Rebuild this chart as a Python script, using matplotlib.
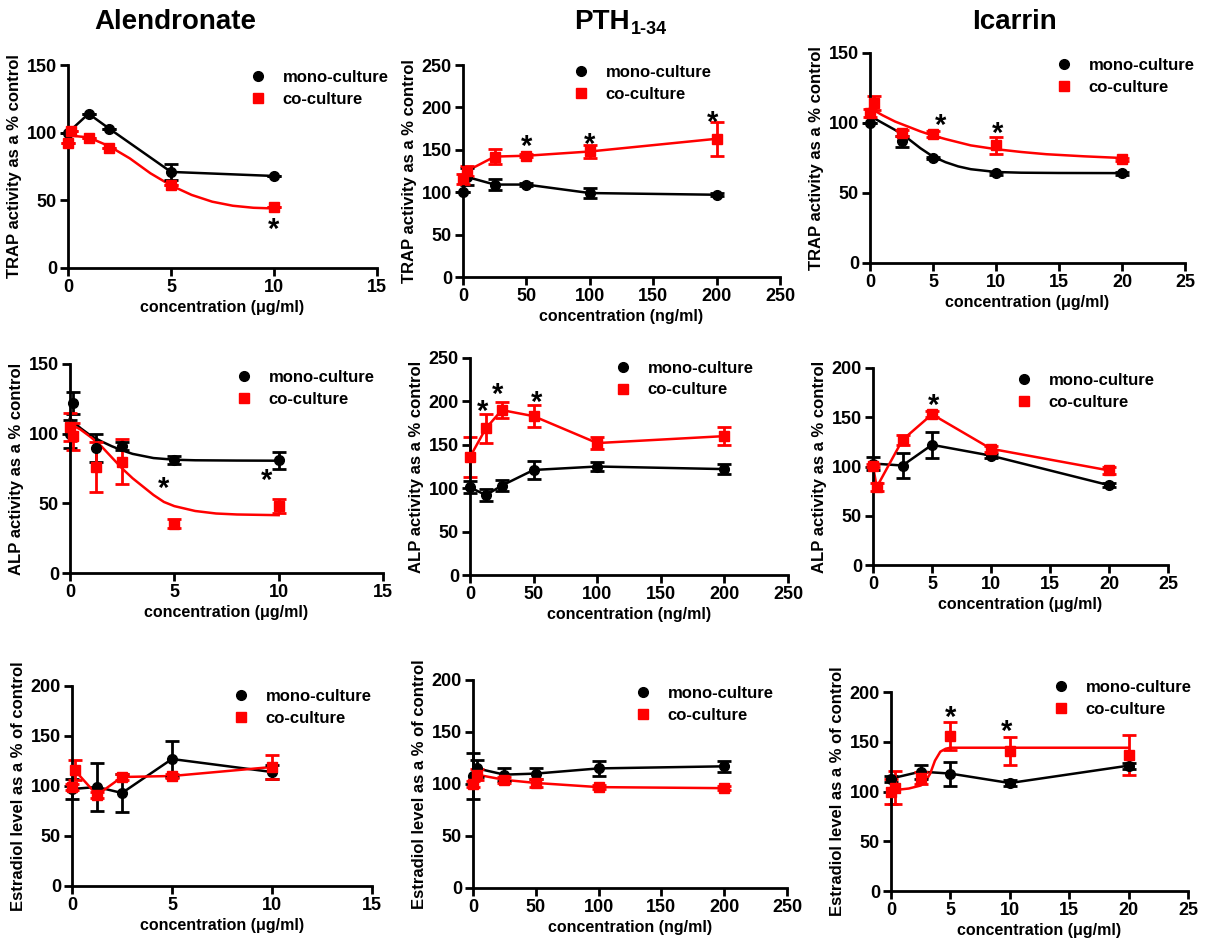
import matplotlib
matplotlib.use('Agg')
import matplotlib.pyplot as plt

plt.rcParams['font.family'] = ['Liberation Sans', 'DejaVu Sans']
plt.rcParams['font.weight'] = 'bold'

# ---------------- data ----------------
# Alendronate - TRAP
alen_trap_mono_x = [0, 1, 2, 5, 10]
alen_trap_mono_y = [100, 114, 103, 71, 68]
alen_trap_mono_err = [0, 0, 0, 6, 0]
alen_trap_co_x = [0, 0.15, 1, 2, 5, 10]
alen_trap_co_y = [92, 101, 96, 89, 61, 45]
alen_trap_co_err = [0, 0, 0, 0, 0, 0]
alen_trap_co_fit_x = [0, 1, 2, 3, 4, 5, 6, 7, 8, 9, 10]
alen_trap_co_fit_y = [98, 96.5, 90, 81, 70, 61, 54, 49, 46, 44.5, 44]
alen_trap_stars = [(10, 33)]

# PTH - TRAP
pth_trap_x = [0, 3.125, 25, 50, 100, 200]
pth_trap_mono_y = [100, 118, 109, 109, 99, 97]
pth_trap_mono_err = [0, 10, 6, 2, 6, 2]
pth_trap_co_y = [116, 125, 142, 143, 148, 163]
pth_trap_co_err = [6, 6, 9, 2, 8, 20]
pth_trap_stars = [(50, 161), (100, 164), (197, 190)]

# Icarrin - TRAP
ica_trap_mono_x = [0, 2.5, 5, 10, 20]
ica_trap_mono_y = [100, 87, 75, 64, 64]
ica_trap_mono_err = [0, 4, 1, 1, 1]
ica_trap_co_x = [0, 0.3125, 2.5, 5, 10, 20]
ica_trap_co_y = [107, 114, 93, 92, 84, 74]
ica_trap_co_err = [3, 5, 2, 2, 6, 1]
ica_trap_mono_fit_x = [0, 1, 2, 3, 4, 5, 6, 7, 8, 10, 12, 15, 20]
ica_trap_mono_fit_y = [105, 100, 95, 89, 82, 76, 72, 69, 67, 65, 64.5, 64.3, 64.2]
ica_trap_co_fit_x = [0, 1, 2, 3, 4, 5, 6, 8, 10, 12, 14, 17, 20]
ica_trap_co_fit_y = [110.7, 105.5, 101, 97.5, 94, 91, 88.5, 84, 81.3, 79.3, 77.7, 76.2, 75]
ica_trap_stars = [(5.6, 103), (10.1, 97)]

# Alendronate - ALP
alen_alp_x = [0, 0.125, 1.25, 2.5, 5, 10]
alen_alp_mono_y = [100, 122, 90, 91, 81, 81]
alen_alp_mono_err = [10, 8, 10, 3, 3, 6]
alen_alp_co_y = [105, 98, 76, 80, 35.5, 48]
alen_alp_co_err = [10, 10, 18, 16, 3, 5]
alen_alp_mono_fit_x = [0, 0.5, 1, 1.5, 2, 2.5, 3, 4, 5, 6, 8, 10]
alen_alp_mono_fit_y = [111, 104, 98.5, 94.5, 91, 88, 85.5, 82.5, 81.3, 80.9, 80.7, 80.6]
alen_alp_co_fit_x = [0, 0.5, 1, 1.5, 2, 2.5, 3, 3.5, 4, 4.5, 5, 6, 7, 8, 10]
alen_alp_co_fit_y = [107, 103, 97.5, 91, 83, 75, 68, 62, 56, 51, 48, 44.5, 42.7, 42, 41.5]
alen_alp_stars = [(4.47, 65), (9.4, 71)]

# PTH - ALP
pth_alp_x = [0, 12.5, 25, 50, 100, 200]
pth_alp_mono_y = [101, 92, 103, 121, 125, 122]
pth_alp_mono_err = [7, 7, 6, 10, 5, 6]
pth_alp_co_y = [136, 169, 190, 183, 152, 160]
pth_alp_co_err = [23, 17, 9, 13, 7, 10]
pth_alp_stars = [(10, 196), (22, 216), (52, 206)]

# Icarrin - ALP
ica_alp_mono_x = [0, 2.5, 5, 10, 20]
ica_alp_mono_y = [103, 101, 122, 111, 81]
ica_alp_mono_err = [7, 13, 13, 2, 2]
ica_alp_co_x = [0, 0.3125, 2.5, 5, 10, 20]
ica_alp_co_y = [101, 79, 127, 153, 118, 96]
ica_alp_co_err = [2, 4, 5, 3, 3, 4]
ica_alp_stars = [(5.1, 169)]

# Alendronate - Estradiol
alen_e2_mono_x = [0, 1.25, 2.5, 5, 10]
alen_e2_mono_y = [97, 99, 93, 127, 114]
alen_e2_mono_err = [10, 24, 19, 18, 7]
alen_e2_co_x = [0, 0.125, 1.25, 2.5, 5, 10]
alen_e2_co_y = [99, 116, 91, 109, 110, 119]
alen_e2_co_err = [3, 10, 3, 3, 2, 12]

# PTH - Estradiol
pth_e2_x = [0, 3.125, 25, 50, 100, 200]
pth_e2_mono_y = [108, 115, 109, 110, 115, 117]
pth_e2_mono_err = [22, 8, 6, 5, 7, 5]
pth_e2_co_y = [100, 109, 104, 101, 97, 96]
pth_e2_co_err = [3, 5, 3, 4, 2, 2]

# Icarrin - Estradiol
ica_e2_mono_x = [0, 2.5, 5, 10, 20]
ica_e2_mono_y = [113, 120, 118, 108.5, 126]
ica_e2_mono_err = [3, 7, 12, 3, 3]
ica_e2_co_x = [0, 0.3125, 2.5, 5, 10, 20]
ica_e2_co_y = [100, 104, 114, 156, 141, 137]
ica_e2_co_err = [13, 17, 6, 14, 14, 20]
ica_e2_co_fit_x = [0, 1.5, 2.5, 2.75, 3.0, 3.3, 3.7, 4.15, 4.6, 5, 10, 20]
ica_e2_co_fit_y = [101, 103, 106, 108, 112, 118, 131, 140, 143, 144, 144, 144]
ica_e2_stars = [(5, 181), (9.75, 167)]

ylabels = ['TRAP activity as a % control', 'ALP activity as a % control',
           'Estradiol level as a % of control']
xlabels = ['concentration (\u03bcg/ml)', 'concentration (ng/ml)', 'concentration (\u03bcg/ml)']

# ---------------- layout (pixel boxes: left, right, top, bottom) ----------------
W, H = 1206, 941
boxes = [
    [(68, 377, 65, 268), (463, 780, 65, 277), (870, 1185, 53, 263)],
    [(70, 383, 364, 573), (470, 788, 358, 575), (873, 1168, 368, 565)],
    [(72, 372, 686, 886), (473, 787, 680, 888), (891, 1188, 692, 891)],
]
legend_pos = [
    [(0.587, 0.975), (0.345, 1.0), (0.589, 0.976)],
    [(0.528, 0.971), (0.454, 0.987), (0.483, 0.975)],
    [(0.535, 0.985), (0.514, 0.971), (0.543, 1.06)],
]

panels = [
    [dict(mx=alen_trap_mono_x, my=alen_trap_mono_y, me=alen_trap_mono_err,
          cx=alen_trap_co_x, cy=alen_trap_co_y, ce=alen_trap_co_err,
          cfit=(alen_trap_co_fit_x, alen_trap_co_fit_y), stars=alen_trap_stars,
          xmax=15, xt=[0, 5, 10, 15], ymax=150, yt=[0, 50, 100, 150]),
     dict(mx=pth_trap_x, my=pth_trap_mono_y, me=pth_trap_mono_err,
          cx=pth_trap_x, cy=pth_trap_co_y, ce=pth_trap_co_err, stars=pth_trap_stars,
          xmax=250, xt=[0, 50, 100, 150, 200, 250], ymax=250, yt=[0, 50, 100, 150, 200, 250]),
     dict(mx=ica_trap_mono_x, my=ica_trap_mono_y, me=ica_trap_mono_err,
          cx=ica_trap_co_x, cy=ica_trap_co_y, ce=ica_trap_co_err,
          mfit=(ica_trap_mono_fit_x, ica_trap_mono_fit_y),
          cfit=(ica_trap_co_fit_x, ica_trap_co_fit_y), stars=ica_trap_stars,
          xmax=25, xt=[0, 5, 10, 15, 20, 25], ymax=150, yt=[0, 50, 100, 150])],
    [dict(mx=alen_alp_x, my=alen_alp_mono_y, me=alen_alp_mono_err,
          cx=alen_alp_x, cy=alen_alp_co_y, ce=alen_alp_co_err,
          mfit=(alen_alp_mono_fit_x, alen_alp_mono_fit_y),
          cfit=(alen_alp_co_fit_x, alen_alp_co_fit_y), stars=alen_alp_stars,
          xmax=15, xt=[0, 5, 10, 15], ymax=150, yt=[0, 50, 100, 150]),
     dict(mx=pth_alp_x, my=pth_alp_mono_y, me=pth_alp_mono_err,
          cx=pth_alp_x, cy=pth_alp_co_y, ce=pth_alp_co_err, stars=pth_alp_stars,
          xmax=250, xt=[0, 50, 100, 150, 200, 250], ymax=250, yt=[0, 50, 100, 150, 200, 250]),
     dict(mx=ica_alp_mono_x, my=ica_alp_mono_y, me=ica_alp_mono_err,
          cx=ica_alp_co_x, cy=ica_alp_co_y, ce=ica_alp_co_err, stars=ica_alp_stars,
          xmax=25, xt=[0, 5, 10, 15, 20, 25], ymax=200, yt=[0, 50, 100, 150, 200])],
    [dict(mx=alen_e2_mono_x, my=alen_e2_mono_y, me=alen_e2_mono_err,
          cx=alen_e2_co_x, cy=alen_e2_co_y, ce=alen_e2_co_err, stars=[],
          xmax=15, xt=[0, 5, 10, 15], ymax=200, yt=[0, 50, 100, 150, 200]),
     dict(mx=pth_e2_x, my=pth_e2_mono_y, me=pth_e2_mono_err,
          cx=pth_e2_x, cy=pth_e2_co_y, ce=pth_e2_co_err, stars=[],
          xmax=250, xt=[0, 50, 100, 150, 200, 250], ymax=200, yt=[0, 50, 100, 150, 200]),
     dict(mx=ica_e2_mono_x, my=ica_e2_mono_y, me=ica_e2_mono_err,
          cx=ica_e2_co_x, cy=ica_e2_co_y, ce=ica_e2_co_err,
          cfit=(ica_e2_co_fit_x, ica_e2_co_fit_y), stars=ica_e2_stars,
          xmax=25, xt=[0, 5, 10, 15, 20, 25], ymax=200, yt=[0, 50, 100, 150, 200])],
]

fig = plt.figure(figsize=(W / 100, H / 100), dpi=100)

for r in range(3):
    for c in range(3):
        p = panels[r][c]
        l, rr, t, b = boxes[r][c]
        ax = fig.add_axes([l / W, 1 - b / H, (rr - l) / W, (b - t) / H])

        # lines: fitted curve if present, otherwise connect the points
        if 'mfit' in p:
            ax.plot(p['mfit'][0], p['mfit'][1], color='black', lw=1.8, clip_on=False)
        else:
            ax.plot(p['mx'], p['my'], color='black', lw=1.8, clip_on=False)
        if 'cfit' in p:
            ax.plot(p['cfit'][0], p['cfit'][1], color='red', lw=1.8, clip_on=False)
        else:
            ax.plot(p['cx'], p['cy'], color='red', lw=1.8, clip_on=False)

        ax.errorbar(p['mx'], p['my'], yerr=p['me'], fmt='none', ecolor='black',
                    elinewidth=2, capsize=5, capthick=2, clip_on=False)
        ax.errorbar(p['cx'], p['cy'], yerr=p['ce'], fmt='none', ecolor='red',
                    elinewidth=2, capsize=5, capthick=2, clip_on=False)
        ax.plot(p['mx'], p['my'], 'o', color='black', ms=7, clip_on=False,
                label='mono-culture', zorder=4)
        ax.plot(p['cx'], p['cy'], 's', color='red', ms=7, clip_on=False,
                label='co-culture', zorder=4)

        for sx, sy in p['stars']:
            ax.annotate('*', (sx, sy), xytext=(0, -5), textcoords='offset points',
                        fontsize=21, ha='center', va='center')

        ax.set_xlim(0, p['xmax'])
        ax.set_ylim(0, p['ymax'])
        ax.set_xticks(p['xt'])
        ax.set_yticks(p['yt'])
        for s in ['top', 'right']:
            ax.spines[s].set_visible(False)
        for s in ['left', 'bottom']:
            ax.spines[s].set_linewidth(2)
        ax.tick_params(direction='out', length=6, width=2, labelsize=13, pad=2)
        for lab in ax.get_xticklabels() + ax.get_yticklabels():
            lab.set_fontweight('bold')
        ax.set_ylabel(ylabels[r], fontsize=12, fontweight='bold', labelpad=3)
        ax.set_xlabel(xlabels[c], fontsize=11.5, fontweight='bold', labelpad=3)

        lx, ly = legend_pos[r][c]
        ax.legend(loc='upper left', bbox_to_anchor=(lx, ly), frameon=False,
                  borderpad=0, borderaxespad=0, handlelength=1.0, handletextpad=1.0,
                  labelspacing=0.4, prop={'size': 12, 'weight': 'bold'})

# column titles
fig.text(175 / W, 1 - 22 / H, 'Alendronate', fontsize=20, fontweight='bold',
         ha='center', va='center')
fig.text(630 / W, 1 - 22 / H, 'PTH', fontsize=20, fontweight='bold',
         ha='right', va='center')
fig.text(631 / W, 1 - 30 / H, '1-34', fontsize=13, fontweight='bold',
         ha='left', va='center')
fig.text(1015 / W, 1 - 22 / H, 'Icarrin', fontsize=20, fontweight='bold',
         ha='center', va='center')

fig.savefig('out.png', dpi=100)
